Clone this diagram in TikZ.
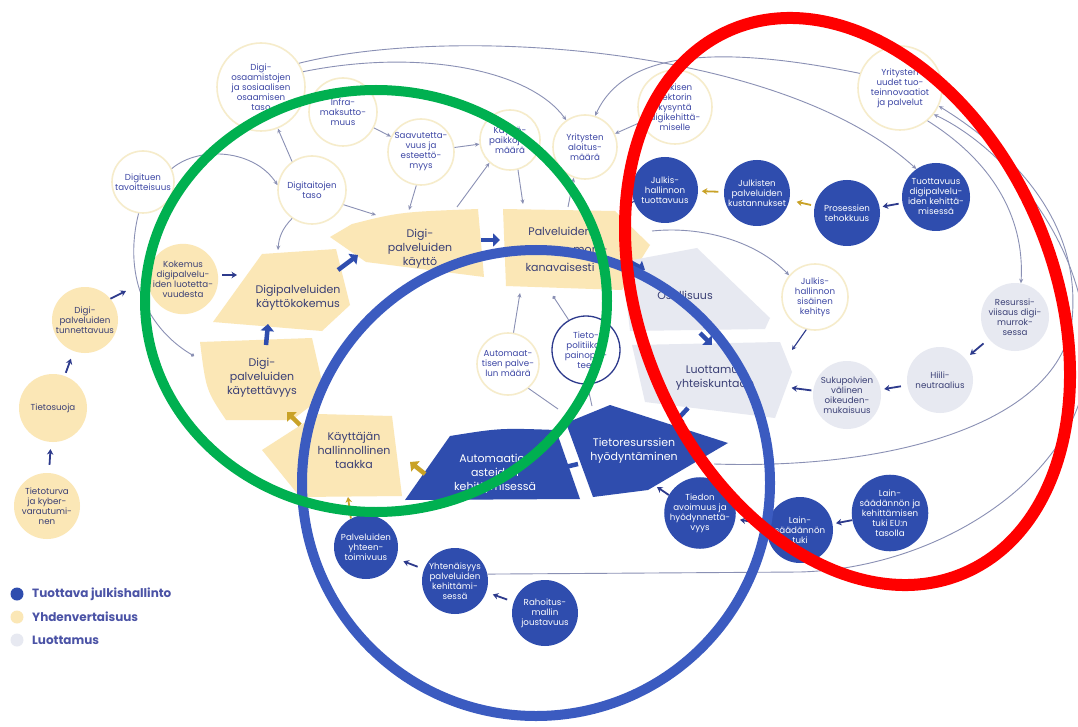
\documentclass[tikz,border=0pt]{standalone}
\usepackage{fontspec}
\setmainfont{Poppins}
\usetikzlibrary{arrows.meta,calc}
\definecolor{ylw}{HTML}{FBE7B6}
\definecolor{ylwline}{HTML}{F6ECCB}
\definecolor{navy}{HTML}{2D3A8C}
\definecolor{cnavy}{HTML}{3D47A5}
\definecolor{wnavy}{HTML}{3A3F75}
\definecolor{dblue}{HTML}{2F4DAE}
\definecolor{lgrey}{HTML}{E7E9F1}
\definecolor{conn}{HTML}{8A90B4}
\definecolor{gold}{HTML}{C9A227}
\definecolor{legc}{HTML}{4B53A6}
\definecolor{ovgreen}{HTML}{00B050}
\definecolor{ovblue}{HTML}{3B5BC0}
\definecolor{ovred}{HTML}{FF0000}
\begin{document}
\begin{tikzpicture}[x=1pt,y=-1pt,
  every node/.style={inner sep=0pt},
  ctx/.style={circle, align=center, font=\fontsize{8.7}{10}\selectfont},
  wc/.style={ctx, draw=ylwline, line width=1.6pt, fill=white, text=cnavy, minimum size=#1},
  yc/.style={ctx, fill=ylw, text=wnavy, minimum size=#1},
  gc/.style={ctx, fill=lgrey, text=wnavy, minimum size=#1},
  bc/.style={ctx, fill=dblue, text=white, minimum size=#1},
  tc/.style={ctx, draw=navy, line width=1.3pt, fill=white, text=cnavy, minimum size=#1},
  wtx/.style={align=center, font=\fontsize{11}{14}\selectfont, text=wnavy},
  wtw/.style={wtx, text=white},
  conn/.style={draw=conn, line width=0.9pt, -{Stealth[length=4.5pt,width=4pt]}},
  pconn/.style={draw=conn, line width=0.9pt},
  dconn/.style={draw=conn, line width=0.9pt, -{Circle[length=3.5pt]}},
  tarr/.style={draw=navy, line width=1.1pt, -{Stealth[length=4.5pt,width=4.5pt]}},
  sarr/.style={draw=navy, line width=1.8pt, -{Stealth[length=5.5pt,width=6.5pt]}},
  barr/.style={draw=dblue, line width=4.5pt, -{Triangle[length=7pt,width=13pt]}},
  garr/.style={draw=gold, line width=4.5pt, -{Triangle[length=7pt,width=13pt]}},
  gsarr/.style={draw=gold, line width=1.8pt, -{Stealth[length=5.5pt,width=6.5pt]}},
  legtx/.style={anchor=west, font=\bfseries\fontsize{12}{15}\selectfont, text=legc},
]
\useasboundingbox (0,0) rectangle (1078,727);
\fill[white] (0,0) rectangle (1078,727);

% ---------- wedges ----------
\fill[ylw] (330,237) -- (352,224) .. controls (400,212) .. (478,209) -- (484,277) -- (366,262) -- cycle;
\fill[ylw] (503,209) -- (615,211) -- (650,245) -- (622,290) -- (506,286) -- cycle;
\fill[ylw] (262,254) -- (336,249) -- (350,305) -- (322,331) -- (213,322) -- cycle;
\fill[ylw] (200,342) -- (312,338) -- (325,395) -- (292,420) -- (226,420) .. controls (206,390) .. (200,342) -- cycle;
\fill[ylw] (262,450) -- (318,414) -- (392,416) -- (402,496) -- (300,497) -- cycle;
\fill[lgrey] (622,262) -- (697,248) -- (770,318) -- (765,329) -- (630,331) -- cycle;
\fill[lgrey] (632,345) -- (780,342) -- (792,372) -- (775,418) -- (645,402) -- cycle;
\fill[dblue] (405,500) -- (450,436) .. controls (500,428) .. (556,430) -- (580,499) -- cycle;
\fill[dblue] (566,423) -- (610,405) -- (728,443) -- (648,490) -- (593,497) -- cycle;

\node[wtx] (wKaytto) at (420,249) {Digi-\\palveluiden\\käyttö};
\node[wtx, font=\fontsize{11}{18}\selectfont] (wSaat) at (560,249) {Palveluiden\\saatavuus moni-\\kanavaisesti};
\node[wtx] (wKok) at (298,298) {Digipalveluiden\\käyttökokemus};
\node[wtx] (wKayt) at (262,378) {Digi-\\palveluiden\\käytettävyys};
\node[wtx] (wTaakka) at (354,450) {Käyttäjän\\hallinnollinen\\taakka};
\node[wtw] (wAuto) at (495,474) {Automaatio-\\asteiden\\kehittymisessä};
\node[wtw] (wTieto) at (634,451) {Tietoresurssien\\hyödyntäminen};
\node[wtx] (wOsal) at (685,295) {Osallisuus};
\node[wtx] (wLuot) at (715,378) {Luottamus\\yhteiskuntaan};

% ---------- circles ----------
\node[wc=88pt] (dosa) at (261,87) {Digi-\\osaamistojen\\ja sosiaalisen\\osaamisen\\taso};
\node[wc=68pt] (infra) at (343,112) {Infra-\\maksutto-\\muus};
\node[wc=66pt] (saav) at (421,152) {Saavutetta-\\vuus ja\\esteettö-\\myys};
\node[wc=60pt] (kaytto) at (510,140) {Käyttö-\\paikkojen\\määrä};
\node[wc=64pt] (yrit) at (585,147) {Yritysten\\aloitus-\\määrä};
\node[wc=74pt] (julks) at (675,107) {Julkisen\\sektorin\\kysyntä\\digikehittä-\\miselle};
\node[wc=84pt] (yuudet) at (900,88) {Yritysten\\uudet tuo-\\teinnovaatiot\\ja palvelut};
\node[wc=62pt] (dtuki) at (143,182) {Digituen\\tavoitteisuus};
\node[wc=68pt] (dtaito) at (312,190) {Digitaitojen\\taso};
\node[wc=62pt] (autom) at (508,364) {Automaat-\\tisen palve-\\lun määrä};
\node[tc=68pt] (tpol) at (586,350) {Tieto-\\politiikan\\painopis-\\teet};
\node[wc=66pt] (julkis2) at (815,297) {Julkis-\\hallinnon\\sisäinen\\kehitys};

\node[yc=66pt] (dtunn) at (85,320) {Digi-\\palveluiden\\tunnettavuus};
\node[yc=68pt] (tsuoja) at (53,408) {Tietosuoja};
\node[yc=66pt] (tturva) at (47,506) {Tietoturva\\ja kyber-\\varautumi-\\nen};
\node[yc=64pt] (kokemus) at (183,279) {Kokemus\\digipalvelu-\\iden luotetta-\\vuudesta};

\node[gc=68pt] (resurssi) at (1015,317) {Resurssi-\\viisaus digi-\\murrok-\\sessa};
\node[gc=66pt] (hiili) at (940,380) {Hiili-\\neutraalius};
\node[gc=68pt] (sukup) at (847,395) {Sukupolvien\\välinen\\oikeuden-\\mukaisuus};

\node[bc=66pt] (jtuott) at (665,190) {Julkis-\\hallinnon\\tuottavuus};
\node[bc=66pt] (jkust) at (757,193) {Julkisten\\palveluiden\\kustannukset};
\node[bc=68pt] (tuottd) at (936,197) {Tuottavuus\\digipalvelu-\\iden kehittä-\\misessä};
\node[bc=66pt] (prosess) at (847,213) {Prosessien\\tehokkuus};
\node[bc=66pt] (tiedon) at (700,513) {Tiedon\\avoimuus ja\\hyödynnettä-\\vyys};
\node[bc=66pt] (lainsaad) at (800,530) {Lain-\\säädännön\\tuki};
\node[bc=66pt] (lainEU) at (890,513) {Lain-\\säädännön ja\\kehittämisen\\tuki EU:n\\tasolla};
\node[bc=64pt] (pyht) at (366,547) {Palveluiden\\yhteen-\\toimivuus};
\node[bc=66pt] (yhten) at (455,581) {Yhtenäisyys\\palveluiden\\kehittämi-\\sessä};
\node[bc=66pt] (rahoitus) at (545,613) {Rahoitus-\\mallin\\joustavuus};

% ---------- thin connectors ----------
\draw[conn] (dosa.20) .. controls (420,48) and (530,70) .. (yrit.125);
\draw[conn] (dosa.32) .. controls (450,25) and (780,45) .. (tuottd.125);
\draw[conn] (yuudet.160) .. controls (720,45) and (625,50) .. (yrit.72);
\draw[conn] (dtuki.25) .. controls (200,145) and (255,150) .. (dtaito.172);
\draw[dconn] (dtuki.262) .. controls (122,280) and (150,330) .. ($(wKayt)+(-68,-22)$);
\draw[conn] (dtaito.125) -- (dosa.292);
\draw[conn] (infra) -- (saav);
\draw[conn] (saav) -- (kaytto);
\draw[conn] (saav.262) -- ($(wKaytto)+(-11,-39)$);
\draw[conn] (dtaito.-25) -- ($(wKaytto)+(-44,-34)$);
\draw[conn] (dtaito.235) to[bend right=20] ($(wKok)+(-20,-48)$);
\draw[conn] ($(wKaytto)+(37,-42)$) -- (kaytto.228);
\draw[conn] (kaytto.285) -- ($(wSaat)+(-37,-45)$);
\draw[conn] ($(wSaat)+(8,-42)$) -- (yrit.250);
\draw[conn] (julks) -- (yrit);
\draw[conn] ($(wSaat)+(92,-18)$) .. controls (700,226) and (755,240) .. (julkis2.140);
\draw[tarr] (julkis2.255) -- ($(wLuot)+(77,-28)$);
\draw[conn] (autom.80) -- ($(wSaat)+(-40,44)$);
\draw[dconn] (tpol.120) -- ($(wSaat)+(-7,47)$);
\draw[pconn] (tpol.272) -- ($(wTieto)+(-42,-45)$);
\draw[pconn] (autom.-50) -- ($(wTieto)+(-76,-42)$);
\draw[conn] ($(wTieto)+(80,13)$) .. controls (900,470) and (1060,420) .. (1072,320) .. controls (1082,220) and (1010,150) .. (yuudet.-25);
\draw[conn] (yhten.12) -- (800,572) .. controls (940,568) and (1068,480) .. (1085,380) .. controls (1100,260) and (1010,150) .. (yuudet.-38);
\draw[conn] (yuudet.-50) .. controls (990,160) and (1025,215) .. (resurssi.80);

% ---------- small dark arrows ----------
\draw[sarr] ($(tuottd)!0.42!(prosess)$) -- ($(tuottd)!0.6!(prosess)$);
\draw[sarr] ($(resurssi)!0.42!(hiili)$) -- ($(resurssi)!0.6!(hiili)$);
\draw[sarr] ($(hiili)!0.42!(sukup)$) -- ($(hiili)!0.6!(sukup)$);
\draw[sarr] ($(sukup)!0.27!(wLuot)$) -- ($(sukup)!0.42!(wLuot)$);
\draw[sarr] (tiedon.150) -- ($(wTieto)+(23,36)$);
\draw[sarr] ($(lainsaad)!0.42!(tiedon)$) -- ($(lainsaad)!0.6!(tiedon)$);
\draw[sarr] ($(lainEU)!0.42!(lainsaad)$) -- ($(lainEU)!0.6!(lainsaad)$);
\draw[sarr] ($(yhten)!0.42!(pyht)$) -- ($(yhten)!0.58!(pyht)$);
\draw[sarr] ($(rahoitus)!0.42!(yhten)$) -- ($(rahoitus)!0.58!(yhten)$);
\draw[sarr] ($(tsuoja)!0.4!(dtunn)$) -- ($(tsuoja)!0.56!(dtunn)$);
\draw[sarr] ($(tturva)!0.42!(tsuoja)$) -- ($(tturva)!0.58!(tsuoja)$);
\draw[sarr] (dtunn.40) -- ($(kokemus)+(-57,12)$);
\draw[sarr] ($(kokemus.east)+(4,-4)$) -- ($(wKok)+(-61,-23)$);
\draw[tarr] (jtuott.200) -- ($(wSaat)+(62,-40)$);

% ---------- gold small arrows ----------
\draw[gsarr] ($(jkust)!0.42!(jtuott)$) -- ($(jkust)!0.6!(jtuott)$);
\draw[gsarr] ($(prosess)!0.4!(jkust)$) -- ($(prosess)!0.56!(jkust)$);
\draw[gsarr] (pyht.118) -- ($(wTaakka)+(-6,47)$);

% ---------- block arrows ----------
\draw[barr] ($(wKok)+(40,-28)$) -- ($(wKaytto)+(-62,6)$);
\draw[barr] ($(wKayt)+(4,-33)$) -- ($(wKok)+(-30,26)$);
\draw[barr] ($(wKaytto)+(61,-9)$) -- ($(wSaat)+(-60,-9)$);
\draw[barr] ($(wSaat)+(70,13)$) -- ($(wOsal)+(-40,-25)$);
\draw[barr] ($(wOsal)+(15,38)$) -- ($(wLuot)+(-3,-33)$);
\draw[barr] ($(wLuot)+(-27,30)$) -- ($(wTieto)+(41,-29)$);
\draw[barr] ($(wTieto)+(-56,13)$) -- ($(wAuto)+(66,-6)$);
\draw[garr] ($(wAuto)+(-70,0)$) -- ($(wTaakka)+(56,12)$);
\draw[garr] ($(wTaakka)+(-54,-25)$) -- ($(wKayt)+(25,34)$);

% ---------- legend ----------
\node[circle, fill=dblue, minimum size=13pt] (l1) at (17,594) {};
\node[circle, fill=ylw, minimum size=13pt] (l2) at (17,617) {};
\node[circle, fill=lgrey, minimum size=13pt] (l3) at (17,640) {};
\node[legtx] (t1) at (32,594) {Tuottava julkishallinto};
\node[legtx] (t2) at (32,617) {Yhdenvertaisuus};
\node[legtx] (t3) at (32,640) {Luottamus};

% ---------- overlay rings ----------
\draw[ovblue, line width=10pt] (536,483) ellipse [x radius=234pt, y radius=233pt];
\draw[ovgreen, line width=10pt] (376,301) ellipse [x radius=231pt, y radius=211pt];
\draw[ovred, line width=12pt, rotate around={-66.7:(847.5,301.5)}] (847.5,301.5) ellipse [x radius=295.6pt, y radius=206.1pt];
\end{tikzpicture}
\end{document}
